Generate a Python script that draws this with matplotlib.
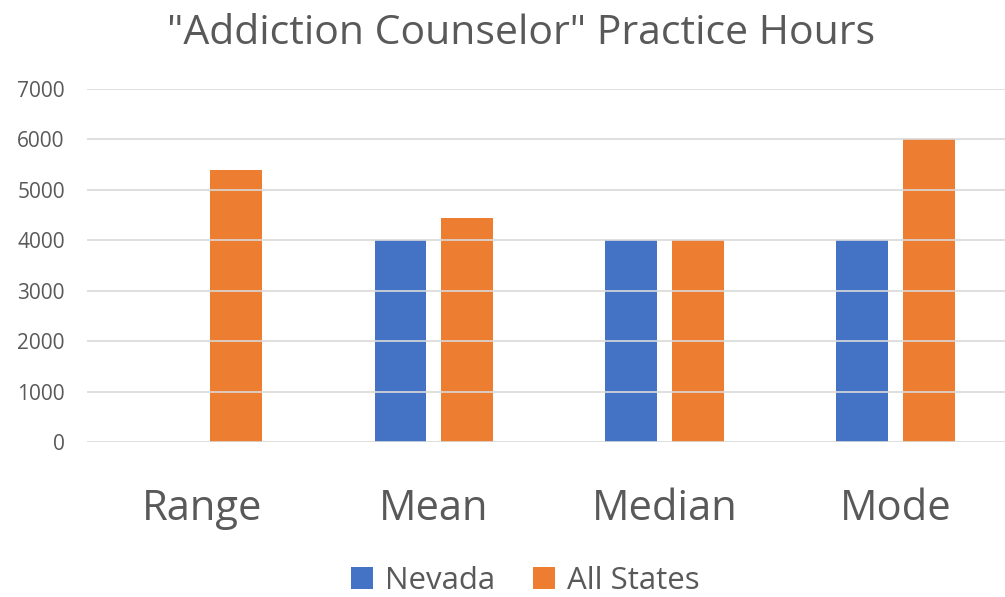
import numpy as np
import matplotlib
matplotlib.use("Agg")
from matplotlib import pyplot as plt

categories = ["Range", "Mean", "Median", "Mode"]
nevada = [0, 4000, 4000, 4000]
all_states = [5400, 4450, 4000, 6000]
series_names = ["Nevada", "All States"]
colors = ["#4472C4", "#ED7D31"]

plt.rcParams["font.family"] = ["Open Sans", "DejaVu Sans"]
gray = "#595959"

fig = plt.figure(figsize=(10.05, 5.97), dpi=100)
ax = fig.add_axes([0.0866, 0.2596, 0.9134, 0.5913])

x = np.arange(len(categories))
w = 0.225
off = 0.143
ax.bar(x - off, nevada, w, color=colors[0], label=series_names[0], zorder=2)
ax.bar(x + off, all_states, w, color=colors[1], label=series_names[1], zorder=2)

ax.set_ylim(0, 7000)
ax.set_xlim(-0.5, 3.474)
ax.set_yticks(range(0, 7001, 1000))
ax.grid(axis="y", color="#d9d9d9", linewidth=1.2, zorder=3)
ax.set_axisbelow(False)
for s in ax.spines.values():
    s.set_visible(False)
ax.tick_params(axis="y", length=0, labelsize=15, colors=gray, pad=16)
ax.tick_params(axis="x", length=0, labelsize=30, colors=gray, pad=33)
ax.set_xticks(x)
ax.set_xticklabels(categories)

fig.suptitle('"Addiction Counselor" Practice Hours', fontsize=29.5, color=gray,
             x=0.518, y=0.978, va="top")

fig.legend(loc="lower center", bbox_to_anchor=(0.523, -0.046), ncol=2, frameon=False,
           fontsize=22.5, labelcolor=gray, handlelength=0.7, handleheight=0.7,
           columnspacing=1.2, handletextpad=0.4)

fig.savefig("out.png", dpi=100)
